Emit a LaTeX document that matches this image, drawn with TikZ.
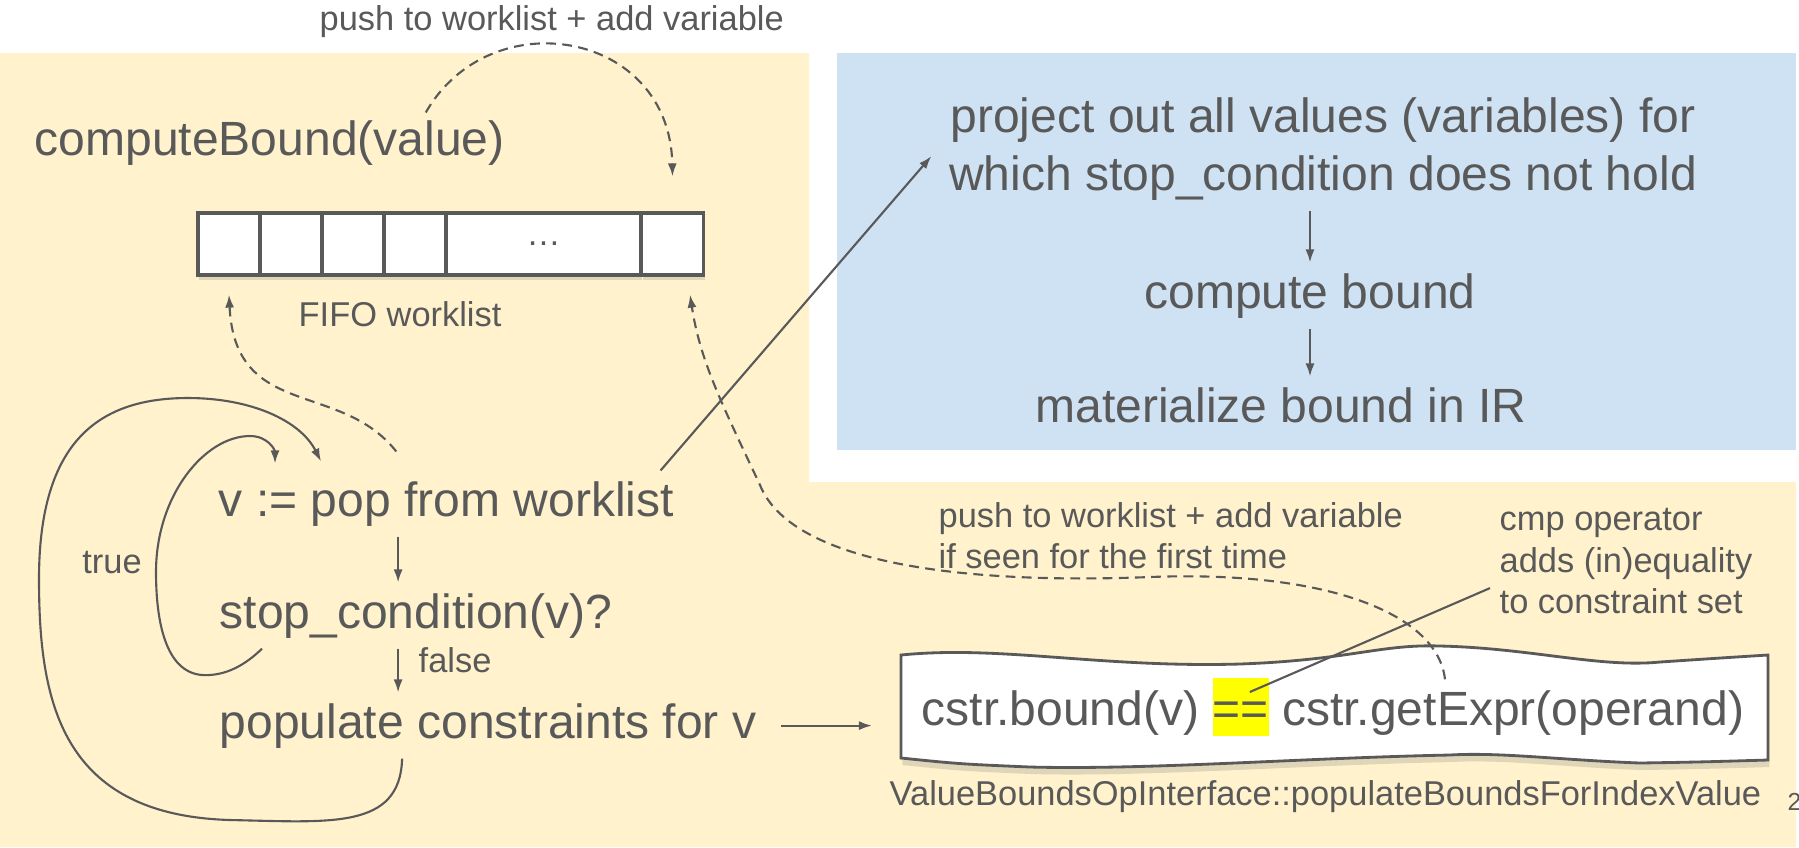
\documentclass[tikz,border=0pt]{standalone}
\usepackage{fontspec}
\setmainfont{Liberation Sans}
\usetikzlibrary{arrows.meta,shadows}
\definecolor{ink}{RGB}{89,89,89}
\definecolor{paneyellow}{RGB}{255,242,204}
\definecolor{paneblue}{RGB}{207,226,243}
\definecolor{hilite}{RGB}{255,255,0}
\newcommand{\bigtxt}{\fontsize{13.66pt}{16.5pt}\selectfont}
\newcommand{\smalltxt}{\fontsize{9.79pt}{11.67pt}\selectfont}

\begin{document}
\begin{tikzpicture}[x=0.01cm, y=0.01cm,
	big/.style={font=\bigtxt, text=ink, inner xsep=0pt, inner ysep=0.1cm},
	note/.style={font=\smalltxt, text=ink, inner sep=0pt},
	cell/.style={rectangle, draw=ink, line width=0.9pt, fill=white, minimum height=0.62cm, minimum width=0.62cm,
		drop shadow={opacity=0.25, shadow xshift=0.4pt, shadow yshift=-1.5pt}},
	arr/.style={draw=ink, line width=0.6pt, -{Latex[length=1.3mm,width=0.9mm]}},
	dasharr/.style={arr, dash pattern=on 2.8pt off 1.8pt}]
		\useasboundingbox (0,0) rectangle (1799,-847);
		\fill[paneyellow] (0,-53) -- (809,-53) -- (809,-482) -- (1796,-482) -- (1796,-847) -- (0,-847) -- cycle;
		\fill[paneblue] (837,-53) rectangle (1796,-450);

		\draw
		(319,-30) node [note, anchor=base west] (pushtop) {push to worklist + add variable}
		(34,-155) node [big, inner ysep=0pt, anchor=base west] (compute) {computeBound(value)}
		(298,-326) node [note, anchor=base west] (fifo) {FIFO worklist};

		\draw
		(229,-244) node [cell] (c1) {}
		(291,-244) node [cell] (c2) {}
		(353,-244) node [cell] (c3) {}
		(415,-244) node [cell] (c4) {}
		(543.5,-244) node [cell, minimum width=1.95cm, font=\smalltxt, text=ink] (cdots) {…}
		(672.5,-244) node [cell] (clast) {};

		\draw
		(218,-516) node [big, anchor=base west] (pop) {v := pop from worklist}
		(219,-628) node [big, anchor=base west] (stop) {stop\_condition(v)?}
		(219,-738) node [big, anchor=base west] (populate) {populate constraints for v}
		(112,-573) node [note, anchor=base] (truelbl) {true}
		(418,-672) node [note, anchor=base west] (falselbl) {false};

		\draw
		(1323,-87) node [big, anchor=north, align=center] (project) {project out all values (variables) for\\which stop\_condition does not hold}
		(1310,-308) node [big, anchor=base] (bound) {compute bound}
		(1281,-422) node [big, anchor=base] (materialize) {materialize bound in IR};
		\draw[arr] (bound.north |- project.south) -- (bound.north);
		\draw[arr] (bound.south) -- (materialize.north -| bound.south);

		\filldraw[fill=white, draw=ink, line width=0.8pt, drop shadow={opacity=0.25, shadow xshift=0.4pt, shadow yshift=-2pt}]
		(901,-655) .. controls (1000,-645) and (1100,-668) .. (1240,-664)
		.. controls (1350,-660) and (1380,-644) .. (1440,-646)
		.. controls (1530,-648) and (1600,-668) .. (1660,-662)
		.. controls (1720,-658) .. (1768,-655)
		-- (1768,-760)
		.. controls (1700,-762) .. (1640,-763)
		.. controls (1560,-760) and (1500,-752) .. (1450,-755)
		.. controls (1300,-758) and (1150,-770) .. (1030,-767)
		.. controls (960,-764) .. (901,-758) -- cycle;

		\draw
		(938,-502) node [note, anchor=north west, align=left] (pushlow) {push to worklist + add variable\\if seen for the first time}
		(1499,-508) node [note, anchor=north west, align=left] (cmpnote) {cmp operator\\adds (in)equality\\to constraint set}
		(901,-725) node [big, anchor=base west, inner xsep=0.2cm] (cstr) {cstr.bound(v) {\setlength{\fboxsep}{0pt}\colorbox{hilite}{\rule[-0.11cm]{0pt}{0.58cm}==}} cstr.getExpr(operand)}
		(889,-805) node [note, anchor=base west] (iface) {ValueBoundsOpInterface::populateBoundsForIndexValue}
		(1787,-810) node [font=\fontsize{7pt}{8pt}\selectfont, text=ink, inner sep=0pt, anchor=base west] (pagenum) {2};

		\draw[arr] ([xshift=1.8cm]pop.south west) -- ([xshift=1.8cm]pop.south west |- stop.north);
		\draw[arr] ([xshift=1.79cm]stop.south west) -- ([xshift=1.79cm]stop.south west |- populate.north);
		\draw[arr, shorten <=0.24cm, shorten >=0.29cm] (populate.east) -- (populate.east -| cstr.west);
		\draw[arr] ([xshift=-0.14cm]pop.north east) -- ([xshift=-0.17cm,yshift=-0.07cm]project.west);

		\draw[dasharr] ([xshift=1.56cm,yshift=0.07cm]compute.north) .. controls (490,0) and (670,-30) .. ([yshift=0.35cm]clast.north);
		\draw[dasharr] ([xshift=-0.5cm,yshift=0.19cm]pop.north) .. controls (340,-380) and (235,-420) .. ([yshift=-0.18cm]c1.south);
		\draw[dasharr] ([xshift=1.12cm,yshift=-0.12cm]cstr.north) .. controls (1438,-615) and (1330,-570) .. (1150,-577)
		.. controls (950,-585) and (790,-560) .. (760,-485)
		.. controls (720,-400) and (700,-360) .. ([xshift=0.175cm,yshift=-0.18cm]clast.south);

		\draw[arr] ([xshift=1.83cm]populate.south west) .. controls (400,-830) and (330,-822) .. (230,-820)
		.. controls (60,-815) and (39,-700) .. (39,-579)
		.. controls (39,-440) and (100,-398) .. (188,-398)
		.. controls (250,-398) and (300,-420) .. ([xshift=1.03cm,yshift=0.09cm]pop.north west);
		\draw[arr] ([xshift=0.43cm]stop.south west) .. controls (240,-670) and (220,-676) .. (202,-675)
		.. controls (165,-672) and (156,-620) .. (156,-572)
		.. controls (156,-495) and (205,-436) .. (250,-436)
		.. controls (268,-436) and (275,-450) .. ([xshift=0.57cm,yshift=0.07cm]pop.north west);

		\draw[ink, line width=0.6pt] ([shift={(-0.09cm,0.26cm)}]cmpnote.south west) -- ([shift={(-0.83cm,0.15cm)}]cstr.center);
	\end{tikzpicture}
\end{document}
